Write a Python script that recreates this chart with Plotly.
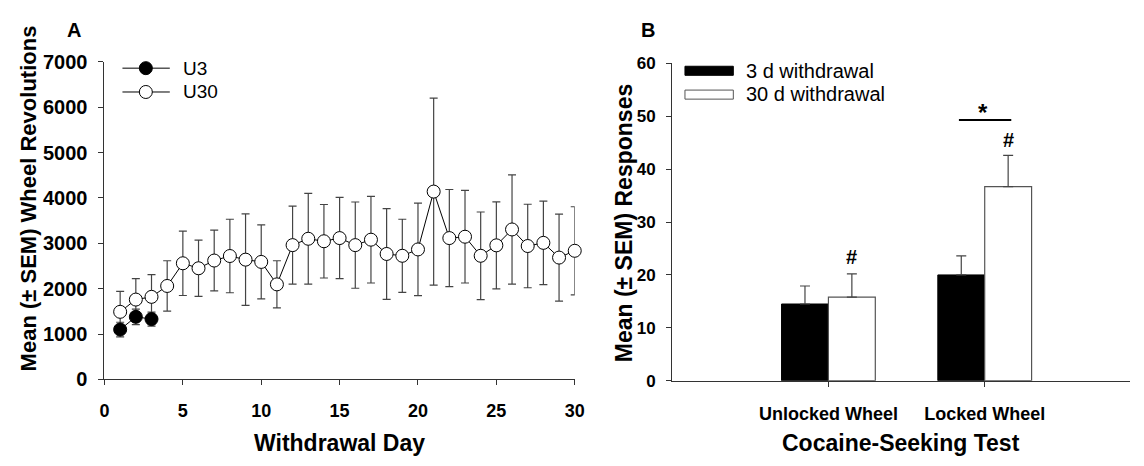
import plotly.graph_objects as go

# ---------------- data ----------------
days_u30 = list(range(1, 31))
u30_mean = [1490, 1760, 1820, 2060, 2560, 2450, 2620, 2720, 2640, 2590,
            2095, 2960, 3100, 3045, 3115, 2960, 3080, 2765, 2725, 2865,
            4140, 3115, 3145, 2725, 2955, 3305, 2940, 3010, 2685, 2835]
u30_sem = [450, 460, 490, 555, 710, 620, 670, 810, 1010, 815,
           520, 860, 1000, 810, 895, 950, 955, 1000, 805, 1020,
           2060, 1070, 1020, 965, 960, 1205, 920, 920, 960, 970]

days_u3 = [1, 2, 3]
u3_mean = [1100, 1380, 1330]
u3_sem = [160, 170, 155]

tests = ["Unlocked Wheel", "Locked Wheel"]
w3_mean = [14.5, 20.0]
w3_sem = [3.4, 3.6]
w30_mean = [15.8, 36.7]
w30_sem = [4.4, 5.9]

W, H = 1144, 466
FONT = "Arial, Liberation Sans, sans-serif"
AX = "#333333"
ERR = "#444444"


def px(x):
    return x / W


def py(y):
    return 1 - y / H


fig = go.Figure()

# ---------------- panel A ----------------
fig.add_trace(go.Scatter(
    x=days_u30, y=u30_mean, mode="lines+markers", name="U30",
    line=dict(color="black", width=1),
    marker=dict(symbol="circle", size=13, color="white", line=dict(color="black", width=1)),
    error_y=dict(type="data", array=u30_sem, visible=True, color=ERR, thickness=1.2, width=4),
    xaxis="x", yaxis="y", showlegend=False, cliponaxis=False))
fig.add_trace(go.Scatter(
    x=days_u3, y=u3_mean, mode="lines+markers", name="U3",
    line=dict(color="black", width=1),
    marker=dict(symbol="circle", size=13, color="black", line=dict(color="black", width=1)),
    error_y=dict(type="data", array=u3_sem, visible=True, color=ERR, thickness=1.2, width=4),
    xaxis="x", yaxis="y", showlegend=False, cliponaxis=False))

# ---------------- panel B ----------------
fig.add_trace(go.Bar(
    x=tests, y=w3_mean, name="3 d withdrawal",
    marker=dict(color="black", line=dict(color="black", width=1)),
    error_y=dict(type="data", array=w3_sem, arrayminus=[0] * len(w3_sem), symmetric=False,
                 visible=True, color=ERR, thickness=1.2, width=5),
    xaxis="x2", yaxis="y2", showlegend=False))
fig.add_trace(go.Bar(
    x=tests, y=w30_mean, name="30 d withdrawal",
    marker=dict(color="white", line=dict(color="#555555", width=1.2)),
    error_y=dict(type="data", array=w30_sem, arrayminus=[0] * len(w30_sem), symmetric=False,
                 visible=True, color=ERR, thickness=1.2, width=5),
    xaxis="x2", yaxis="y2", showlegend=False))


def tf(size):
    return dict(family=FONT, size=size, color="black", weight="bold")


axis_common = dict(showline=True, linecolor=AX, linewidth=1, showgrid=False, zeroline=False,
                   ticks="outside", ticklen=5, tickwidth=1, tickcolor=AX)

fig.update_layout(
    width=W, height=H, margin=dict(l=0, r=0, t=0, b=0),
    paper_bgcolor="white", plot_bgcolor="white",
    font=dict(family=FONT, color="black"),
    barmode="group", bargap=0.4, bargroupgap=0,
    xaxis=dict(domain=[px(100.8), px(577.3)], range=[0, 30], tickvals=[0, 5, 10, 15, 20, 25, 30],
               anchor="y", ticklabelstandoff=10, tickfont=tf(18), **axis_common),
    yaxis=dict(domain=[py(386.7), py(53.3)], range=[0, 7000], dtick=1000,
               anchor="x", ticklabelstandoff=7, tickfont=tf(20), **axis_common),
    xaxis2=dict(domain=[px(676), px(1140)], type="category", range=[-1, 1.93],
                anchor="y2", ticklabelstandoff=12, tickfont=tf(18), **axis_common),
    yaxis2=dict(domain=[py(388), py(55)], range=[0, 60], dtick=10,
                anchor="x2", ticklabelstandoff=7, tickfont=tf(17), **axis_common),
)

ann = []
# panel letters
ann.append(dict(x=px(70), y=py(20), xref="paper", yref="paper", text="A", showarrow=False,
                font=tf(20), xanchor="center", yanchor="middle"))
ann.append(dict(x=px(652), y=py(20), xref="paper", yref="paper", text="B", showarrow=False,
                font=tf(20), xanchor="center", yanchor="middle"))
# axis titles
ann.append(dict(x=px(24), y=py(197), xref="paper", yref="paper", text="Mean (± SEM) Wheel Revolutions",
                textangle=-90, showarrow=False, font=tf(22), xanchor="center", yanchor="middle"))
ann.append(dict(x=px(339), y=py(453), xref="paper", yref="paper", text="Withdrawal Day",
                showarrow=False, font=tf(23), xanchor="center", yanchor="middle"))
ann.append(dict(x=px(628), y=py(223), xref="paper", yref="paper", text="Mean (± SEM) Responses",
                textangle=-90, showarrow=False, font=tf(23), xanchor="center", yanchor="middle"))
ann.append(dict(x=px(908), y=py(453), xref="paper", yref="paper", text="Cocaine-Seeking Test",
                showarrow=False, font=tf(23), xanchor="center", yanchor="middle"))

# legend A (manual)
for yy, label in [(60, "U3"), (85, "U30")]:
    ann.append(dict(x=px(178), y=py(yy), xref="paper", yref="paper", text=label, showarrow=False,
                    font=dict(size=19, family=FONT), xanchor="left", yanchor="middle"))
# legend B (manual)
for yy, label in [(63, "3 d withdrawal"), (87.5, "30 d withdrawal")]:
    ann.append(dict(x=px(749), y=py(yy), xref="paper", yref="paper", text=label, showarrow=False,
                    font=dict(size=20, family=FONT), xanchor="left", yanchor="middle"))

# significance marks
ann.append(dict(x=0.15, y=w30_mean[0] + w30_sem[0], xref="x2", yref="y2", text="#", showarrow=False,
                font=tf(20), yanchor="middle", yshift=17))
ann.append(dict(x=1.15, y=w30_mean[1] + w30_sem[1], xref="x2", yref="y2", text="#", showarrow=False,
                font=tf(20), yanchor="middle", yshift=15))
ann.append(dict(x=0.99, y=49.3, xref="x2", yref="y2", text="*", showarrow=False,
                font=tf(24), yanchor="middle", yshift=7))
fig.update_layout(annotations=ann)

shapes = []
# legend A symbols
for yy, fill in [(60, "black"), (85, "white")]:
    shapes.append(dict(type="line", xref="paper", yref="paper", x0=px(119), x1=px(167),
                       y0=py(yy), y1=py(yy), line=dict(color="black", width=1)))
    shapes.append(dict(type="circle", xref="paper", yref="paper", xsizemode="pixel", ysizemode="pixel",
                       xanchor=px(142.7), yanchor=py(yy), x0=-6.5, x1=6.5, y0=-6.5, y1=6.5,
                       fillcolor=fill, line=dict(color="black", width=1)))
# legend B swatches
shapes.append(dict(type="rect", xref="paper", yref="paper", x0=px(689), x1=px(738), y0=py(58), y1=py(67.5),
                   fillcolor="black", line=dict(color="black", width=1)))
shapes.append(dict(type="rect", xref="paper", yref="paper", x0=px(689), x1=px(738), y0=py(83), y1=py(92.5),
                   fillcolor="white", line=dict(color="#555555", width=1)))
# significance line
shapes.append(dict(type="line", xref="x2", yref="y2", x0=0.835, x1=1.17, y0=49.3, y1=49.3,
                   line=dict(color="black", width=2)))
fig.update_layout(shapes=shapes)

fig.write_html("out.html")
